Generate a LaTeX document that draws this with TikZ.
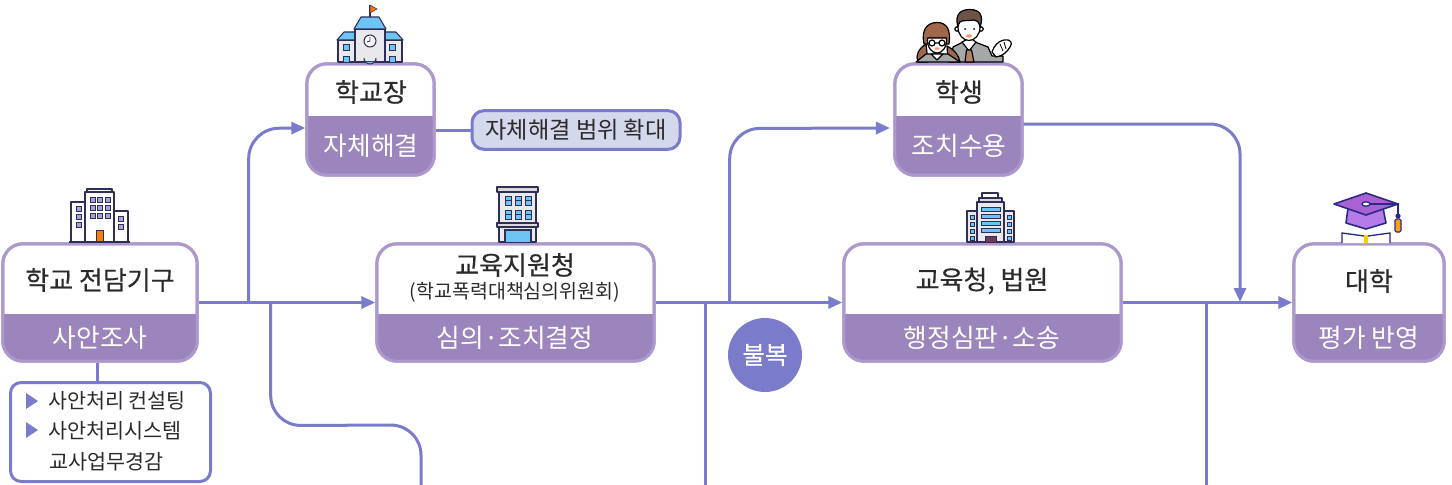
\documentclass[tikz,border=0pt]{standalone}
\usepackage{fontspec}
\usetikzlibrary{calc,arrows.meta}
\setmainfont{Noto Sans CJK KR}[BoldFont={Noto Sans CJK KR}, BoldFeatures={FakeBold=0.35}]
\definecolor{flow}{HTML}{7B7BCB}
\definecolor{cardline}{HTML}{AC98CC}
\definecolor{cardfill}{HTML}{9C84BC}
\definecolor{calloutfill}{HTML}{D3D8EC}
\definecolor{ink}{HTML}{2B2B2B}
\definecolor{outline}{HTML}{2F2F55}
\definecolor{glass}{HTML}{6CC4F5}
\definecolor{wall}{HTML}{E9E9EC}
\definecolor{capfill}{HTML}{B57BE8}
\definecolor{capline}{HTML}{2A2A85}
\definecolor{hairbrown}{HTML}{A0674A}
\definecolor{hairdark}{HTML}{6B5347}
\definecolor{suit}{HTML}{A5A8A8}
\definecolor{tie}{HTML}{B08468}
\tikzset{
  x=0.75pt, y=-0.75pt,
  flowline/.style={draw=flow, line width=2.25pt, rounded corners=22.5pt},
  flowarrow/.style={flowline, -{Triangle[length=10.5pt,width=9pt]}},
  cardframe/.style={draw=cardline, fill=white, line width=2.25pt, rounded corners=15pt, inner sep=0pt},
  titletext/.style={inner sep=0pt, text=ink, font=\fontsize{19.5pt}{22pt}\selectfont\bfseries},
  subtext/.style={inner sep=0pt, text=white, font=\fontsize{19.3pt}{22pt}\selectfont},
  smalltext/.style={inner sep=0pt, text=ink, font=\fontsize{15.5pt}{18pt}\selectfont},
  building/.style={draw=outline, line width=0.8pt, fill=wall, line join=round},
  pane/.style={draw=outline, line width=0.7pt, fill=glass},
  blush/.style={fill=red!40!orange!60},
  figureline/.style={draw=black, line width=0.9pt, line join=round},
}
% Card with a white upper part and a purple lower part: name, x0, y0, x1, split, y1
\newcommand{\tiercard}[6]{%
  \pgfmathsetmacro{\cardw}{(#4-#2-1.6)*0.75}%
  \pgfmathsetmacro{\cardh}{(#6-#3-1.6)*0.75}%
  \node[cardframe, minimum width=\cardw pt, minimum height=\cardh pt] (#1) at ({(#2+#4)/2},{(#3+#6)/2}) {};
  \begin{scope}
    \clip[rounded corners=15pt] (#2+0.8,#3+0.8) rectangle (#4-0.8,#6-0.8);
    \fill[cardfill] (#2,#5) rectangle (#4,#6);
  \end{scope}
  \draw[cardline, line width=2.25pt, rounded corners=15pt] (#2+0.8,#3+0.8) rectangle (#4-0.8,#6-0.8);
}
\begin{document}
\begin{tikzpicture}
\useasboundingbox (0,0) rectangle (1452,485);

% Free ends of the lines that run off the bottom edge
\coordinate (schoolDrop) at (421,485);
\coordinate (reviewDrop) at (705,485);
\coordinate (appealDrop) at (1206,485);

% Cards
\tiercard{school}{2}{243}{198}{314}{362}
\tiercard{principal}{306}{63}{435}{116}{176}
\tiercard{office}{376}{243}{655}{314}{362}
\tiercard{student}{894}{63}{1023}{116}{176}
\tiercard{court}{843}{243}{1122}{314}{362}
\tiercard{college}{1293}{243}{1445}{314}{362}

% Card labels
\node[titletext] (schoolT) at (100,280) {학교 전담기구};
\node[subtext] (schoolS) at (100,338) {사안조사};
\node[titletext] (principalT) at (371,92) {학교장};
\node[subtext] (principalS) at (371,146) {자체해결};
\node[titletext] (officeT) at (515,265) {교육지원청};
\node[inner sep=0pt, text=ink, font=\fontsize{14.6pt}{17pt}\selectfont] (officeN) at (515,292) {(학교폭력대책심의위원회)};
\node[subtext] (officeS) at (515,338) {심의·조치결정};
\node[titletext] (studentT) at (959,92) {학생};
\node[subtext] (studentS) at (959,146) {조치수용};
\node[titletext] (courtT) at (982,281) {교육청, 법원};
\node[subtext] (courtS) at (982,338) {행정심판·소송};
\node[titletext] (collegeT) at (1369,281) {대학};
\node[subtext] (collegeS) at (1369,338) {평가 반영};

% Support list under the first card
\node[draw=flow, fill=white, line width=2.25pt, rounded corners=8pt, minimum width=150pt, minimum height=74.25pt, inner sep=0pt] (support) at (110.5,432) {};
\fill[flow] (26,393) -- (38,401) -- (26,409) -- cycle;
\fill[flow] (26,422) -- (38,430) -- (26,438) -- cycle;
\node[smalltext, anchor=west] (supportA) at (48,401) {사안처리 컨설팅};
\node[smalltext, anchor=west] (supportB) at (48,431) {사안처리시스템};
\node[smalltext, anchor=west] (supportC) at (49,462) {교사업무경감};

% Callout beside the principal card
\node[draw=flow, fill=calloutfill, line width=2.25pt, rounded corners=9pt, minimum width=156pt, minimum height=29pt, inner sep=0pt, text=ink, font=\fontsize{17.4pt}{20pt}\selectfont] (callout) at (576,130) {자체해결 범위 확대};

% Appeal badge
\node[circle, fill=flow, minimum size=55.5pt, inner sep=0pt, text=white, font=\fontsize{18.5pt}{20pt}\selectfont\bfseries] (appeal) at (765,355) {불복};

% Flow lines
\draw[flowarrow] (school.east) -- (office.west);
\draw[flowarrow] ($(school.east)+(50,0)$) -- ($(school.east)+(50,-174)$) -- (principal.west |- 0,128);
\draw[flowline] ($(school.east)+(72,0)$) -- ($(school.east)+(72,123)$) -- ($(schoolDrop)+(0,-60)$) -- (schoolDrop);
\draw[flow, line width=2.25pt] ($(school.south)+(-3,0)$) -- ($(school.south)+(-3,20)$);
\draw[flow, line width=2.25pt] (principal.east |- callout.west) -- (callout.west);
\draw[flowarrow] (office.east) -- (court.west);
\draw[flowarrow, shorten >=2.5pt] ($(office.east)+(74,0)$) -- ($(office.east)+(74,-174)$) -- (student.west |- 0,128);
\draw[flowline] (reviewDrop |- office.east) -- (reviewDrop);
\draw[flowarrow] (court.east) -- (college.west);
\draw[flowarrow] (student.east |- 0,124) -- (1240,124) -- (1240,302);
\draw[flowline] (appealDrop |- court.east) -- (appealDrop);

% Office campus above the first card
\draw[building, fill=white] (71,242) rectangle (85,202);
\draw[building, fill=white] (114,242) rectangle (128,211);
\draw[building, fill=white] (87,192) rectangle (112,189);
\draw[building, fill=white] (85,242) rectangle (114,192);
\foreach \px in {90,97.5,105} \foreach \py in {197,205,213}
  \draw[outline, line width=0.7pt, fill=flow!70] (\px,\py) rectangle ++(5,5);
\foreach \py in {206,214,222} \draw[outline, line width=0.7pt, fill=flow!70] (76,\py) rectangle ++(5,5);
\foreach \py in {216,224} \draw[outline, line width=0.7pt, fill=flow!70] (118,\py) rectangle ++(5,5);
\fill[orange!85!brown] (96,230) rectangle (103,242);
\draw[outline, line width=0.7pt] (96,242) -- (96,230) -- (103,230) -- (103,242);
\draw[outline, line width=0.9pt] (69,242) -- (130,242);

% Schoolhouse above the principal card
\draw[building] (338,62) rectangle (355,40);
\draw[building] (385,62) rectangle (402,40);
\draw[building, fill=glass] (337,40) -- (344,32) -- (355,32) -- (355,40) -- cycle;
\draw[building, fill=glass] (403,40) -- (396,32) -- (385,32) -- (385,40) -- cycle;
\draw[building] (355,62) rectangle (385,29);
\draw[building, fill=glass] (354,29) -- (361,17) -- (379,17) -- (386,29) -- cycle;
\draw[outline, line width=0.9pt] (370,17) -- (370,5);
\fill[orange!90!red, draw=outline, line width=0.4pt] (370,5) -- (377,9) -- (370,13) -- cycle;
\draw[outline, line width=0.8pt, fill=white] (370,41) circle[radius=6];
\draw[outline, line width=0.7pt] (370,37) -- (370,41) -- (367,42);
\draw[pane] (364,62) -- (364,58) arc[start angle=180, end angle=0, radius=6] -- (376,62);
\foreach \px in {343,389} {
  \draw[pane] (\px,44) rectangle ++(6,6);
  \draw[pane] (\px,56) rectangle ++(6,6);
}

% Low-rise block above the second card
\draw[building] (499,242) rectangle (536,192);
\draw[building, fill=white!85!black] (497,192) rectangle (538,187);
\draw[building, fill=white!85!black] (497,227) rectangle (538,223);
\foreach \px in {505,515,525} \foreach \py in {196,210} {
  \draw[pane] (\px,\py) rectangle ++(6,4.5);
  \draw[pane] (\px,\py+4.5) rectangle ++(6,4.5);
}
\draw[pane, line width=0.9pt] (505,242) -- (505,230) -- (531,230) -- (531,242);

% Tower above the fourth card
\draw[building] (967,242) rectangle (977,211);
\draw[building] (1004,242) rectangle (1014,211);
\draw[building, fill=white] (982,198) rectangle (998,193);
\draw[building, fill=white!85!black] (979,202) rectangle (1002,198);
\draw[building] (977,242) rectangle (1004,202);
\foreach \py in {207,214,221,228} \draw[pane] (981,\py) rectangle ++(19,4.5);
\foreach \px in {970,1007} \foreach \py in {215,222,229,236} \draw[pane] (\px,\py) rectangle ++(4,4);
\fill[hairdark!70!violet, draw=outline, line width=0.6pt] (985,242) -- (985,236) -- (996,236) -- (996,242);

% Mortarboard and book above the last card
\draw[capline, line width=1pt, fill=white] (1342,243) -- (1342,233) -- (1364,236) -- (1368,236) -- (1390,233) -- (1390,243);
\fill[orange!40!yellow] (1364,235) rectangle (1368,243);
\draw[capline, line width=1.2pt, fill=capfill, line join=round] (1348,208) -- (1346,223) -- (1366,229) -- (1386,223) -- (1383,208) -- cycle;
\draw[capline, line width=1.2pt, fill=capfill!80!violet, line join=round] (1334,204) -- (1366,193) -- (1398,204) -- (1366,215) -- cycle;
\draw[capline, line width=1pt, fill=white] (1366,204) ellipse[x radius=4, y radius=2.2];
\draw[capline, line width=1pt] (1370,204) -- (1398,204) -- (1398,214);
\fill[capline] (1398,216) circle[radius=2.6];
\draw[capline, line width=0.8pt, fill=orange!75!yellow, rounded corners=1pt] (1395,219) rectangle (1401,232);

% Man in a grey suit, waving
\fill[suit, figureline] (951,62) -- (953,47) -- (963,42) -- (975,42) -- (988,47) -- (992,56) -- (1003,56) -- (1003,62) -- cycle;
\fill[white, figureline] (962,42) -- (969,51) -- (976,42) -- (970,38) -- cycle;
\fill[tie, figureline] (966.5,50) -- (971.5,50) -- (974,62) -- (965,62) -- cycle;
\fill[white, figureline] (992,52) .. controls (994,46) and (998,41) .. (1004,40) .. controls (1011,39) and (1013,43) .. (1010,47) .. controls (1007,52) and (1003,56) .. (996,57) -- cycle;
\draw[black, line width=0.6pt] (1000,44) -- (1003,51) (1004,42) -- (1006,49);
\fill[white, figureline] (957,29) circle[radius=2.2] (981,29) circle[radius=2.2];
\fill[white, figureline] (969,27) ellipse[x radius=11, y radius=13.5];
\fill[hairdark, figureline] (958,27) .. controls (954,13) and (962,9.5) .. (970,9.5) .. controls (980,9.5) and (984,16) .. (980,27) .. controls (979,22) and (977,20) .. (974,20) .. controls (968,21) and (962,20) .. (960,22) .. controls (959,23) and (958,25) .. (958,27) -- cycle;
\fill[black] (965,29) circle[radius=1] (974,29) circle[radius=1];
\fill[blush] (969,36) ellipse[x radius=3, y radius=1.7];

% Girl with glasses and pigtails
\fill[hairbrown, figureline] (926,44) .. controls (919,48) and (915,56) .. (918,62) -- (928,62) -- cycle;
\fill[hairbrown, figureline] (947,46) .. controls (955,50) and (959,56) .. (960,62) -- (948,62) -- cycle;
\fill[suit, figureline] (916,62) -- (926,54) -- (948,54) -- (960,62) -- cycle;
\fill[white, figureline] (931,54) -- (937,60) -- (943,54) -- cycle;
\fill[hairbrown, figureline] (924,44) .. controls (921,30) and (927,22.5) .. (937,22.5) .. controls (947,22.5) and (951,30) .. (949,44) -- (946,44) -- (946,38) -- (928,38) -- (928,44) -- cycle;
\fill[white, figureline] (927.5,38) -- (946.5,38) .. controls (947,48) and (942,53) .. (937,53) .. controls (932,53) and (927,48) .. (927.5,38) -- cycle;
\draw[black, line width=0.9pt] (932,43) circle[radius=3] (942,43) circle[radius=3] (935,43) -- (939,43);
\fill[blush] (937,48.5) ellipse[x radius=2.5, y radius=1.3];
\end{tikzpicture}
\end{document}
